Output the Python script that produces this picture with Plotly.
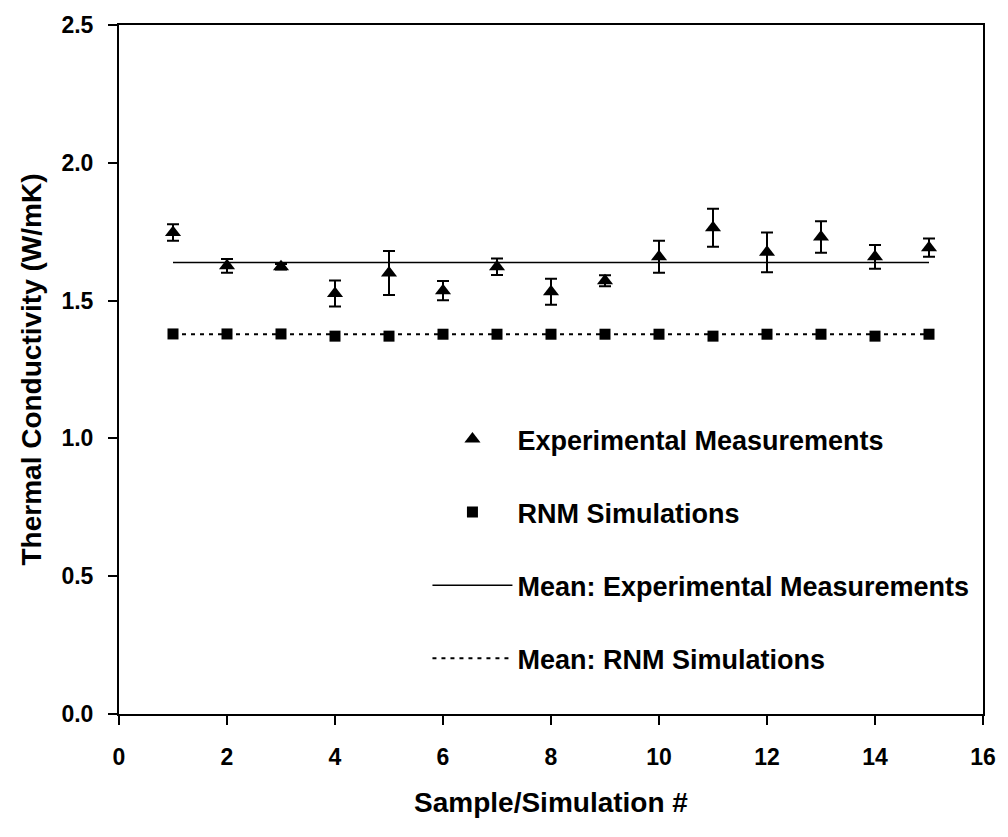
import plotly.graph_objects as go

# ---- data ----
sample_no = [1, 2, 3, 4, 5, 6, 7, 8, 9, 10, 11, 12, 13, 14, 15]
experimental = [1.747, 1.626, 1.623, 1.526, 1.600, 1.536, 1.623, 1.532, 1.572,
                1.659, 1.764, 1.675, 1.731, 1.659, 1.692]
experimental_err = [0.030, 0.025, 0.010, 0.047, 0.080, 0.035, 0.030, 0.047, 0.020,
                    0.058, 0.069, 0.072, 0.057, 0.043, 0.033]
rnm = [1.379, 1.379, 1.379, 1.371, 1.371, 1.378, 1.378, 1.378, 1.378,
       1.378, 1.371, 1.378, 1.378, 1.371, 1.378]
mean_x = [1, 15]
mean_experimental = 1.638
mean_rnm = 1.378

x_ticks = [0, 2, 4, 6, 8, 10, 12, 14, 16]
y_ticks = [0.0, 0.5, 1.0, 1.5, 2.0, 2.5]

FONT = "Liberation Sans, Arial, Helvetica, sans-serif"

fig = go.Figure()

fig.add_trace(go.Scatter(
    x=sample_no, y=experimental, mode="markers",
    name="Experimental Measurements", legendgroup="a",
    marker=dict(symbol="triangle-up", size=14, color="black"),
    error_y=dict(type="data", array=experimental_err, visible=True,
                 color="black", thickness=2, width=6),
))
fig.add_trace(go.Scatter(
    x=sample_no, y=rnm, mode="markers",
    name="RNM Simulations", legendgroup="b",
    marker=dict(symbol="square", size=11, color="black"),
))
fig.add_trace(go.Scatter(
    x=mean_x, y=[mean_experimental, mean_experimental], mode="lines",
    name="Mean: Experimental Measurements", legendgroup="c",
    line=dict(color="black", width=1.5),
))
fig.add_trace(go.Scatter(
    x=mean_x, y=[mean_rnm, mean_rnm], mode="lines",
    name="Mean: RNM Simulations", legendgroup="d",
    line=dict(color="black", width=2, dash="4px,5px"),
))

fig.update_layout(
    width=1008, height=837,
    margin=dict(l=119, r=15, t=23, b=123),
    paper_bgcolor="white", plot_bgcolor="white",
    font=dict(family=FONT, color="black", size=22, weight="bold"),
    showlegend=True,
    legend=dict(
        x=0.357, y=0.434, xanchor="left", yanchor="top",
        bgcolor="rgba(0,0,0,0)", borderwidth=0,
        font=dict(family=FONT, size=27, color="black", weight="bold"),
        itemwidth=80, tracegroupgap=35, traceorder="grouped",
    ),
)

fig.update_xaxes(
    range=[0, 16], tickvals=x_ticks, ticktext=[str(v) for v in x_ticks],
    showgrid=False, zeroline=False,
    showline=True, linecolor="black", linewidth=2, mirror=True,
    ticks="outside", ticklen=9, tickwidth=2, tickcolor="black",
    ticklabelstandoff=12,
    tickfont=dict(family=FONT, size=23, color="black", weight="bold"),
    title=dict(text="Sample/Simulation #", standoff=24,
               font=dict(family=FONT, size=28, color="black", weight="bold")),
)
fig.update_yaxes(
    range=[0, 2.5], tickvals=y_ticks, ticktext=[f"{v:.1f}" for v in y_ticks],
    showgrid=False, zeroline=False,
    showline=True, linecolor="black", linewidth=2, mirror=True,
    ticks="outside", ticklen=9, tickwidth=2, tickcolor="black",
    ticklabelstandoff=10,
    tickfont=dict(family=FONT, size=23, color="black", weight="bold"),
    title=dict(text="Thermal Conductivity (W/mK)", standoff=12,
               font=dict(family=FONT, size=28, color="black", weight="bold")),
)

fig.write_html("out.html")
